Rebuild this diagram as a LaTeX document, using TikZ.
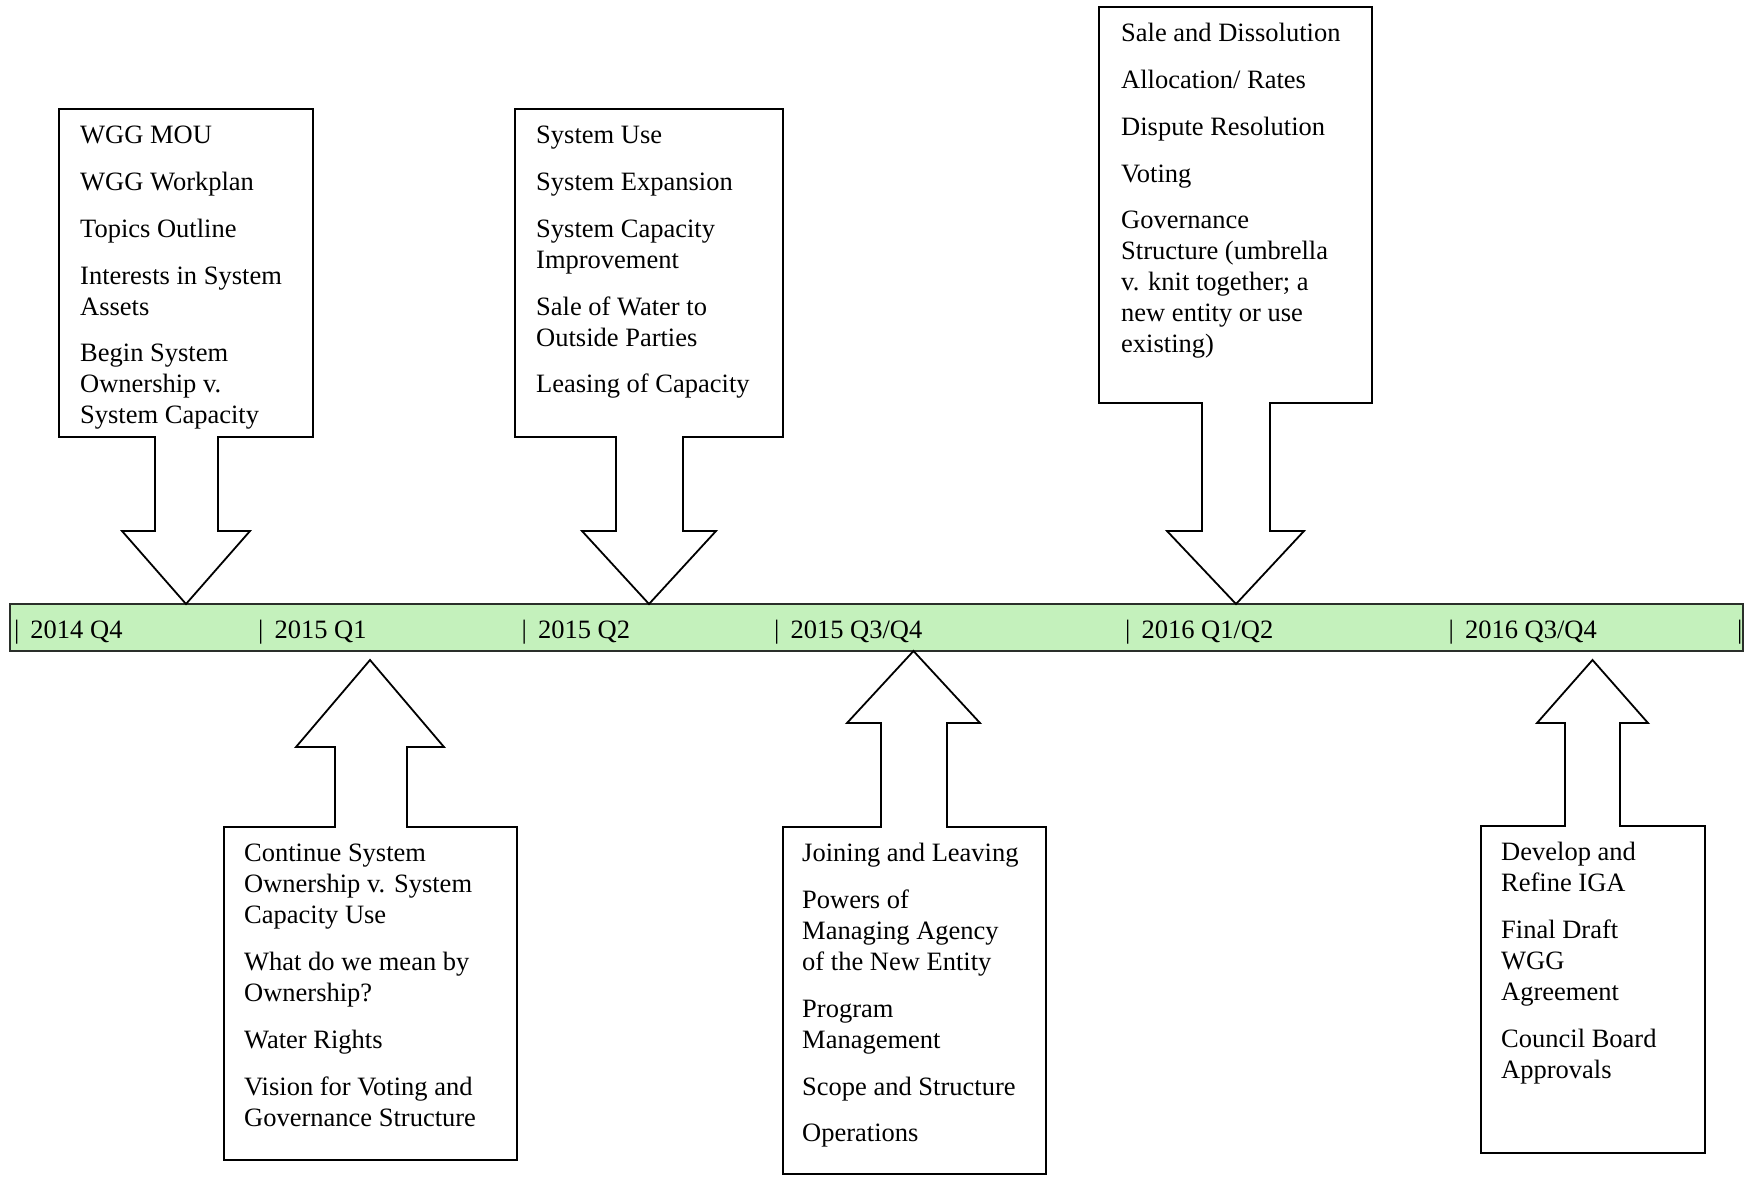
\documentclass[tikz,border=0pt]{standalone}
\usepackage{fontspec}
\setmainfont{Liberation Serif}
\usepackage{xcolor}
\usepackage{tikz}
\definecolor{BarGreen}{HTML}{C4F1BC}
\definecolor{BarEdge}{HTML}{2A2F2A}

\begin{document}
\begin{tikzpicture}[
	x=1pt, y=1pt,
	callout/.style={draw, line width=1.8pt, fill=white, line join=miter},
	items/.style={anchor=north west, inner sep=0pt, align=left, font=\fontsize{26.5}{31}\selectfont},
	bar/.style={draw=BarEdge, line width=2.2pt, fill=BarGreen, minimum width=1733pt, minimum height=47pt, inner sep=0pt},
	period/.style={anchor=base west, inner sep=0pt, font=\fontsize{26.5}{31}\selectfont}
]
\useasboundingbox (0,0) rectangle (1745,-1176);

% timeline
\node[bar] (timeline) at (876.5,-627.5) {};
\node[period] (q4a) at (14,-638) {|\hspace{11pt}2014 Q4};
\node[period] (q1b) at (258,-638) {|\hspace{11pt}2015 Q1};
\node[period] (q2b) at (521.5,-638) {|\hspace{11pt}2015 Q2};
\node[period] (q34b) at (774,-638) {|\hspace{11pt}2015 Q3/Q4};
\node[period] (q12c) at (1125,-638) {|\hspace{11pt}2016 Q1/Q2};
\node[period] (q34c) at (1448.5,-638) {|\hspace{11pt}2016 Q3/Q4};
\node[period] (endtick) at (1737,-638) {|};

% callouts above the timeline
\draw[callout] (59,-109) -- (313,-109) -- (313,-437) -- (218,-437) -- (218,-531) -- (250,-531) -- (186,-604)
	-- (122,-531) -- (155,-531) -- (155,-437) -- (59,-437) -- cycle;
\node[items] (startitems) at (80,-122) {\strut WGG MOU\\[15.7pt]WGG Workplan\\[15.7pt]Topics Outline\\[15.7pt]Interests in System\\Assets\\[15.7pt]Begin System\\Ownership v.\\System Capacity};

\draw[callout] (515,-109) -- (783,-109) -- (783,-437) -- (683,-437) -- (683,-531) -- (716,-531) -- (649,-604)
	-- (582,-531) -- (616,-531) -- (616,-437) -- (515,-437) -- cycle;
\node[items] (useitems) at (536,-122) {\strut System Use\\[15.7pt]System Expansion\\[15.7pt]System Capacity\\Improvement\\[15.7pt]Sale of Water to\\Outside Parties\\[15.7pt]Leasing of Capacity};

\draw[callout] (1099,-7) -- (1372,-7) -- (1372,-403) -- (1270,-403) -- (1270,-531) -- (1304,-531) -- (1236,-604)
	-- (1167,-531) -- (1202,-531) -- (1202,-403) -- (1099,-403) -- cycle;
\node[items] (saleitems) at (1121,-20) {\strut Sale and Dissolution\\[15.7pt]Allocation/ Rates\\[15.7pt]Dispute Resolution\\[15.7pt]Voting\\[15.7pt]Governance\\Structure (umbrella\\v. knit together; a\\new entity or use\\existing)};

% callouts below the timeline
\draw[callout] (224,-1160) -- (224,-827) -- (335,-827) -- (335,-747) -- (296,-747) -- (370,-660)
	-- (444,-747) -- (407,-747) -- (407,-827) -- (517,-827) -- (517,-1160) -- cycle;
\node[items] (ownitems) at (244,-840) {\strut Continue System\\Ownership v. System\\Capacity Use\\[15.7pt]What do we mean by\\Ownership?\\[15.7pt]Water Rights\\[15.7pt]Vision for Voting and\\Governance Structure};

\draw[callout] (783,-1174) -- (783,-827) -- (881,-827) -- (881,-723) -- (847,-723) -- (913.5,-651)
	-- (980,-723) -- (947,-723) -- (947,-827) -- (1046,-827) -- (1046,-1174) -- cycle;
\node[items] (joinitems) at (802,-840) {\strut Joining and Leaving\\[15.7pt]Powers of\\Managing Agency\\of the New Entity\\[15.7pt]Program\\Management\\[15.7pt]Scope and Structure\\[15.7pt]Operations};

\draw[callout] (1481,-1153) -- (1481,-826) -- (1565,-826) -- (1565,-723) -- (1537,-723) -- (1592.5,-660)
	-- (1648,-723) -- (1620,-723) -- (1620,-826) -- (1705,-826) -- (1705,-1153) -- cycle;
\node[items] (igaitems) at (1501,-839) {\strut Develop and\\Refine IGA\\[15.7pt]Final Draft\\WGG\\Agreement\\[15.7pt]Council Board\\Approvals};
\end{tikzpicture}
\end{document}
